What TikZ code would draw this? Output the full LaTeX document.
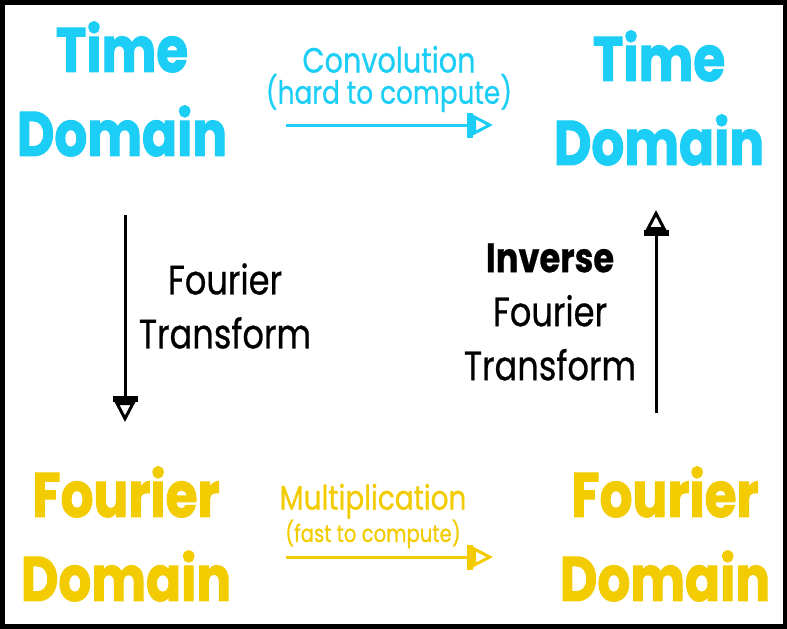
\documentclass[tikz,border=0pt]{standalone}
\usepackage{fontspec}
\usetikzlibrary{arrows.meta}
\newfontfamily\headfont{Poppins}[FakeStretch=0.82,FakeBold=1.6]
\newfontfamily\labelfont{Poppins}[FakeStretch=0.82,FakeBold=0.6]
\definecolor{timecyan}{RGB}{28,205,245}
\definecolor{fourieryellow}{RGB}{242,203,0}
\newcommand*{\wdt}{787}
\newcommand*{\hgt}{629}
\newcommand*{\tipbar}{Bar[width=25pt,line width=6pt]}
\newcommand*{\tiptri}{Triangle[open,length=20pt,width=20pt]}

\begin{document}
\begin{tikzpicture}[x=1pt, y=-1pt,
    domainbox/.style={font=\headfont\bfseries\fontsize{63}{84}\selectfont, align=center, inner sep=0pt},
    ftlabel/.style={font=\labelfont\fontsize{41}{54}\selectfont, align=center, inner sep=0pt},
    flow/.style={line width=3pt, -{\tipbar\tiptri}}]
    \useasboundingbox (0,0) rectangle (\wdt,\hgt);
    \draw [line width=4.5pt] (2.25,2.5) rectangle (\wdt-2.25,\hgt-2.5);
    % corner domains
    \node [domainbox, text=timecyan]      (timeL) at (122, 89) {Time\\Domain};
    \node [domainbox, text=timecyan]      (timeR) at (659, 98) {Time\\Domain};
    \node [domainbox, text=fourieryellow] (fourL) at (126,534) {Fourier\\Domain};
    \node [domainbox, text=fourieryellow] (fourR) at (665,534) {Fourier\\Domain};
    % operations between domains
    \node [font=\labelfont, align=center, inner sep=0pt, text=timecyan] (conv) at (389,79)
        {\fontsize{35}{30}\selectfont Convolution\\\fontsize{32}{30}\selectfont (hard to compute)};
    \node [font=\labelfont, align=center, inner sep=0pt, text=fourieryellow] (mult) at (373,516)
        {\fontsize{34}{27}\selectfont Multiplication\\\fontsize{24}{27}\selectfont (fast to compute)};
    \node [ftlabel] (ft)  at (225,306) {Fourier\\Transform};
    \node [ftlabel] (ift) at (550,312) {\textbf{Inverse}\\Fourier\\Transform};
    % arrows
    \coordinate (convA) at (286,125);  \coordinate (convB) at (493,125);
    \coordinate (multA) at (286,557);  \coordinate (multB) at (493,557);
    \coordinate (ftA)   at (125,215);  \coordinate (ftB)   at (125,422);
    \coordinate (iftA)  at (656,413);  \coordinate (iftB)  at (656,210);
    \draw [flow, draw=timecyan]      (convA) -- (convB);
    \draw [flow, draw=fourieryellow] (multA) -- (multB);
    \draw [flow] (ftA)  -- (ftB);
    \draw [flow] (iftA) -- (iftB);
\end{tikzpicture}
\end{document}
